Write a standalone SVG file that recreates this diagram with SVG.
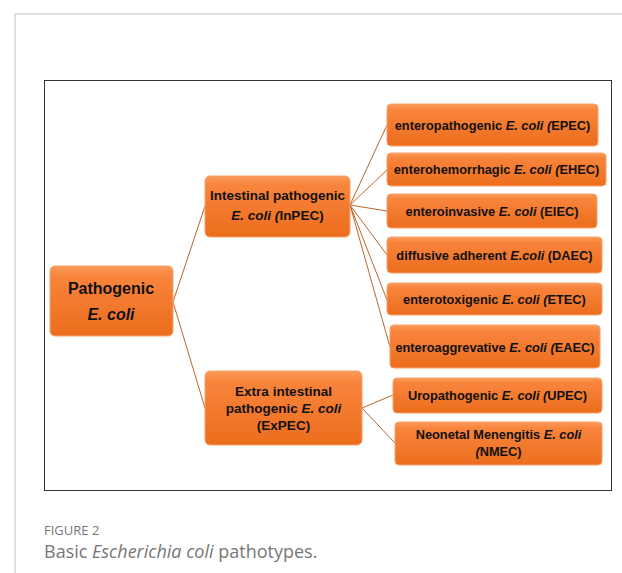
<svg xmlns="http://www.w3.org/2000/svg" width="622" height="573" viewBox="0 0 622 573">
<style>
.box{fill:url(#og);stroke:#f4a26a;stroke-width:1}
.t{font-family:"Liberation Sans",Arial,sans-serif;font-weight:bold;font-size:12.8px;fill:#111;text-anchor:middle}
.mid{font-size:13.5px}
.big{font-size:16px}
.c{stroke:#b8682e;stroke-width:1;fill:none}
.cap{font-family:"Open Sans","Liberation Sans",sans-serif;fill:#777}
</style>
<defs>
<linearGradient id="og" x1="0" y1="0" x2="0" y2="1">
<stop offset="0" stop-color="#fb9a5a"/>
<stop offset="0.15" stop-color="#f8843c"/>
<stop offset="1" stop-color="#ec6d1c"/>
</linearGradient>
</defs>
<rect x="0" y="0" width="622" height="573" fill="#fff"/>
<path d="M15 573V14H622" fill="none" stroke="#d6d6d6" stroke-width="1.5"/>
<rect x="44.5" y="80.5" width="567" height="410" fill="#fff" stroke="#333" stroke-width="1"/>
<g id="connectors">
<path class="c" d="M173 302L205 206M173 302L205 408"/>
<path class="c" d="M350 205L387 125M350 205L387 170M350 205L387 211M350 205L387 255M350 205L387 300M350 205L390 347"/>
<path class="c" d="M362 408L393 395M362 408L395 443"/>
</g>
<g id="n-pathogenic"><rect class="box" x="50" y="266" width="123" height="70" rx="5"/><text class="t big" x="111" y="294">Pathogenic</text><text class="t big" x="111" y="320" font-style="italic">E. coli</text></g>
<g id="n-inpec"><rect class="box" x="205" y="176" width="145" height="61" rx="5"/><text class="t mid" x="277.5" y="200">Intestinal pathogenic</text><text class="t mid" x="277.5" y="220"><tspan font-style="italic">E. coli (</tspan>InPEC)</text></g>
<g id="n-expec"><rect class="box" x="205" y="371" width="157" height="74" rx="5"/><text class="t mid" x="283.5" y="396">Extra intestinal</text><text class="t mid" x="283.5" y="413">pathogenic <tspan font-style="italic">E. coli</tspan></text><text class="t mid" x="283.5" y="430">(ExPEC)</text></g>
<g id="n-epec"><rect class="box" x="387" y="104" width="211" height="42" rx="4"/><text class="t" x="492.5" y="130">enteropathogenic <tspan font-style="italic">E. coli (</tspan>EPEC)</text></g>
<g id="n-ehec"><rect class="box" x="387" y="153" width="219" height="33" rx="4"/><text class="t" x="496.5" y="174">enterohemorrhagic <tspan font-style="italic">E. coli (</tspan>EHEC)</text></g>
<g id="n-eiec"><rect class="box" x="387" y="194" width="210" height="34" rx="4"/><text class="t" x="492" y="215.5">enteroinvasive <tspan font-style="italic">E. coli</tspan> (EIEC)</text></g>
<g id="n-daec"><rect class="box" x="387" y="237" width="215" height="36" rx="4"/><text class="t" x="494.5" y="259.5">diffusive adherent <tspan font-style="italic">E.coli</tspan> (DAEC)</text></g>
<g id="n-etec"><rect class="box" x="387" y="283" width="215" height="32" rx="4"/><text class="t" x="494.5" y="304">enterotoxigenic <tspan font-style="italic">E. coli (</tspan>ETEC)</text></g>
<g id="n-eaec"><rect class="box" x="390" y="325" width="210" height="43" rx="4"/><text class="t" x="495" y="351.5">enteroaggrevative <tspan font-style="italic">E. coli (</tspan>EAEC)</text></g>
<g id="n-upec"><rect class="box" x="393" y="378" width="209" height="35" rx="4"/><text class="t" x="497.5" y="399.5">Uropathogenic <tspan font-style="italic">E. coli (</tspan>UPEC)</text></g>
<g id="n-nmec"><rect class="box" x="395" y="422" width="207" height="43" rx="4"/><text class="t" x="498.5" y="439">Neonetal Menengitis <tspan font-style="italic">E. coli</tspan></text><text class="t" x="498.5" y="456"><tspan font-style="italic">(</tspan>NMEC)</text></g>
<text class="cap" x="44" y="535" font-size="13">FIGURE 2</text>
<text class="cap" x="44" y="558" font-size="18" fill="#707070">Basic <tspan font-style="italic">Escherichia coli</tspan> pathotypes.</text>
</svg>
